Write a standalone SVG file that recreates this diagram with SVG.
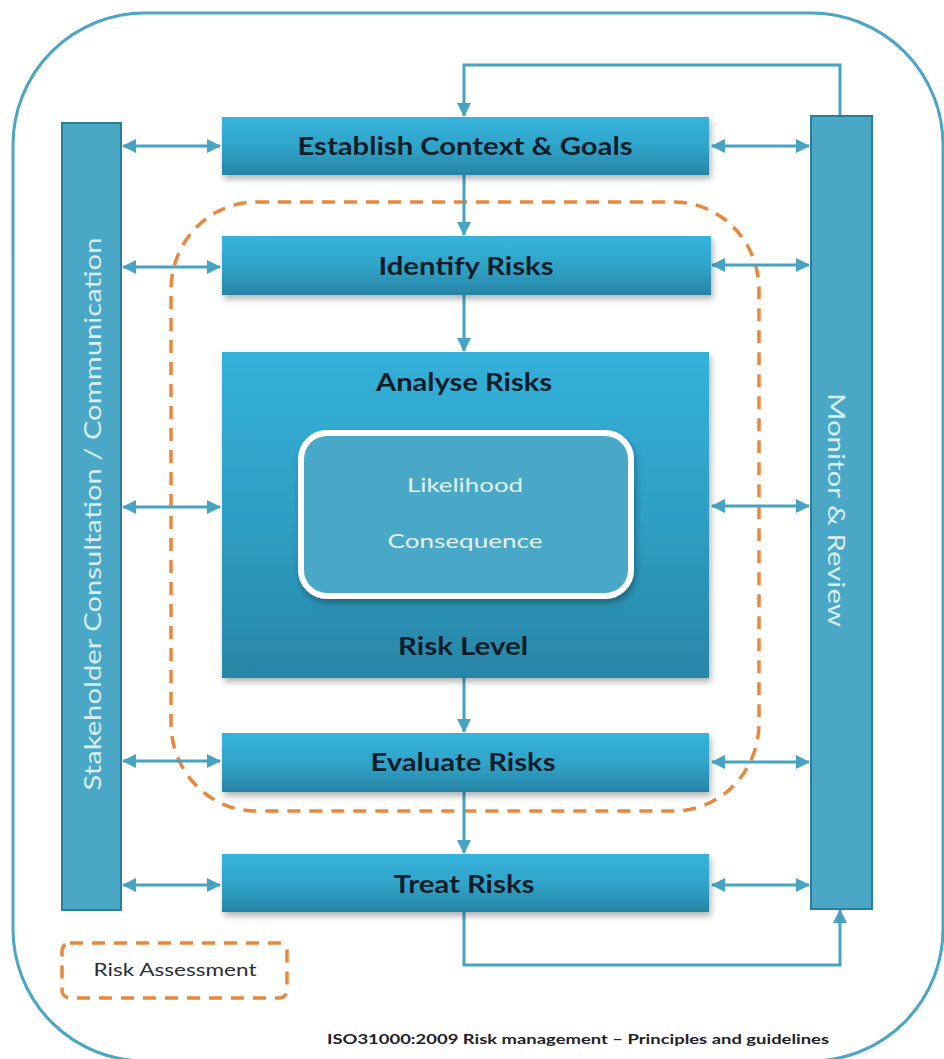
<svg xmlns="http://www.w3.org/2000/svg" width="944" height="1059" viewBox="0 0 944 1059">
  <style>
    .title { font-family: Lato, "Open Sans", "Liberation Sans", sans-serif; font-weight: bold; font-size: 24px; fill: #0f1d2b; text-anchor: middle; }
    .inner { font-family: Lato, "Open Sans", "Liberation Sans", sans-serif; font-size: 20px; fill: #e3f3f8; text-anchor: middle; }
    .side { font-family: Lato, "Open Sans", "Liberation Sans", sans-serif; font-size: 24px; fill: #d9eff6; text-anchor: middle; }
    .legend { font-family: Lato, "Open Sans", "Liberation Sans", sans-serif; font-size: 18px; fill: #2a2f36; text-anchor: middle; }
    .foot { font-family: Lato, "Open Sans", "Liberation Sans", sans-serif; font-weight: bold; font-size: 14px; fill: #1e2228; text-anchor: middle; }
    .box { fill: url(#boxGrad); filter: url(#shadow); }
    .col { fill: #4aa7c5; stroke: #2b7e9a; stroke-width: 2; }
    .conn { fill: none; stroke: #46a3c2; stroke-width: 3; }
    .dash { fill: none; stroke: #e8883c; stroke-width: 3.5; stroke-dasharray: 13 9; }
  </style>
  <defs>
    <linearGradient id="boxGrad" x1="0" y1="0" x2="0" y2="1">
      <stop offset="0" stop-color="#36b4dc"/>
      <stop offset="0.55" stop-color="#2fa2c7"/>
      <stop offset="1" stop-color="#2784a4"/>
    </linearGradient>
    <linearGradient id="bigGrad" x1="0" y1="0" x2="0" y2="1">
      <stop offset="0" stop-color="#34b1d9"/>
      <stop offset="0.5" stop-color="#2e9fc4"/>
      <stop offset="1" stop-color="#2886a6"/>
    </linearGradient>
    <filter id="shadow" x="-10%" y="-10%" width="120%" height="130%">
      <feDropShadow dx="2" dy="4" stdDeviation="3" flood-color="#000" flood-opacity="0.3"/>
    </filter>
    <marker id="arr" markerUnits="userSpaceOnUse" markerWidth="14" markerHeight="14" viewBox="0 0 14 14" refX="13" refY="7" orient="auto-start-reverse">
      <path d="M0,0 L14,7 L0,14 z" fill="#46a3c2"/>
    </marker>
  </defs>

  <rect id="frame" x="13" y="13" width="930" height="1048" rx="132" ry="132" fill="none" stroke="#4aa6c4" stroke-width="3"/>

  <g id="risk-assessment-region">
    <rect class="dash" x="171" y="202" width="588" height="609" rx="85" ry="88"/>
  </g>

  <g id="connectors">
    <path class="conn" d="M123,146 H220" marker-start="url(#arr)" marker-end="url(#arr)"/>
    <path class="conn" d="M123,267 H220" marker-start="url(#arr)" marker-end="url(#arr)"/>
    <path class="conn" d="M123,507 H220" marker-start="url(#arr)" marker-end="url(#arr)"/>
    <path class="conn" d="M123,761 H220" marker-start="url(#arr)" marker-end="url(#arr)"/>
    <path class="conn" d="M123,885 H220" marker-start="url(#arr)" marker-end="url(#arr)"/>
    <path class="conn" d="M712,146 H809" marker-start="url(#arr)" marker-end="url(#arr)"/>
    <path class="conn" d="M712,265 H809" marker-start="url(#arr)" marker-end="url(#arr)"/>
    <path class="conn" d="M712,506 H809" marker-start="url(#arr)" marker-end="url(#arr)"/>
    <path class="conn" d="M712,762 H809" marker-start="url(#arr)" marker-end="url(#arr)"/>
    <path class="conn" d="M712,885 H809" marker-start="url(#arr)" marker-end="url(#arr)"/>
    <path class="conn" d="M464,175 V235" marker-end="url(#arr)"/>
    <path class="conn" d="M464,295 V351" marker-end="url(#arr)"/>
    <path class="conn" d="M464,678 V732" marker-end="url(#arr)"/>
    <path class="conn" d="M464,792 V853" marker-end="url(#arr)"/>
    <path class="conn" d="M840,116 V65 H464 V116" marker-end="url(#arr)"/>
    <path class="conn" d="M464,912 V965 H840 V910" marker-end="url(#arr)"/>
  </g>

  <g id="stakeholder">
    <rect class="col" x="62" y="123" width="59" height="787"/>
    <text class="side" transform="translate(93,514) rotate(-90)" y="8" textLength="553" lengthAdjust="spacingAndGlyphs">Stakeholder Consultation / Communication</text>
  </g>

  <g id="monitor">
    <rect class="col" x="811" y="116" width="61" height="793"/>
    <text class="side" transform="translate(836,510) rotate(90)" y="8" textLength="234" lengthAdjust="spacingAndGlyphs">Monitor &amp; Review</text>
  </g>

  <g id="establish">
    <rect class="box" x="222" y="117" width="487" height="58"/>
    <text class="title" x="465" y="155" textLength="335" lengthAdjust="spacingAndGlyphs">Establish Context &amp; Goals</text>
  </g>

  <g id="identify">
    <rect class="box" x="222" y="236" width="489" height="59"/>
    <text class="title" x="466" y="275" textLength="175" lengthAdjust="spacingAndGlyphs">Identify Risks</text>
  </g>

  <g id="analyse">
    <rect x="222" y="352" width="487" height="326" fill="url(#bigGrad)" filter="url(#shadow)"/>
    <text class="title" x="464" y="391" textLength="176" lengthAdjust="spacingAndGlyphs">Analyse Risks</text>
    <rect x="301" y="433" width="330" height="163" rx="26" ry="26" fill="#4aa8c7" stroke="#ffffff" stroke-width="6" filter="url(#shadow)"/>
    <text class="inner" x="465" y="492" textLength="116" lengthAdjust="spacingAndGlyphs">Likelihood</text>
    <text class="inner" x="465" y="548" textLength="155" lengthAdjust="spacingAndGlyphs">Consequence</text>
    <text class="title" x="463" y="655" textLength="130" lengthAdjust="spacingAndGlyphs">Risk Level</text>
  </g>

  <g id="evaluate">
    <rect class="box" x="222" y="733" width="487" height="59"/>
    <text class="title" x="463" y="771" textLength="185" lengthAdjust="spacingAndGlyphs">Evaluate Risks</text>
  </g>

  <g id="treat">
    <rect class="box" x="222" y="854" width="487" height="58"/>
    <text class="title" x="464" y="893" textLength="141" lengthAdjust="spacingAndGlyphs">Treat Risks</text>
  </g>

  <g id="legend">
    <rect class="dash" x="62" y="943" width="225" height="55" rx="8" ry="8"/>
    <text class="legend" x="175" y="976" textLength="163" lengthAdjust="spacingAndGlyphs">Risk Assessment</text>
  </g>

  <g id="footer">
    <text class="foot" x="578" y="1044" textLength="502" lengthAdjust="spacingAndGlyphs">ISO31000:2009 Risk management – Principles and guidelines</text>
  </g>
</svg>
